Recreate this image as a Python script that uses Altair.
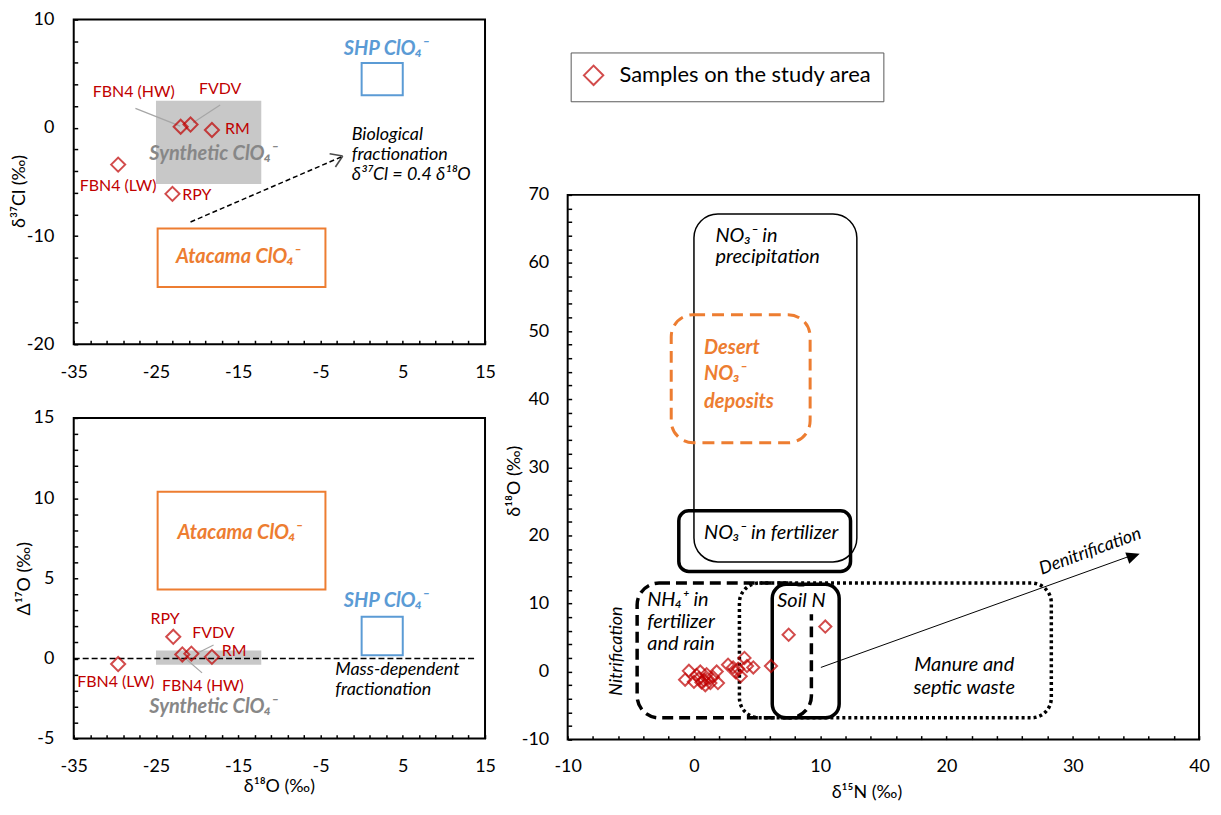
import altair as alt
import pandas as pd

FONT = "Lato"
RED = "#C00000"
ORANGE = "#ED7D31"
BLUE = "#5B9BD5"
GRAYFILL = "#C8C8C8"
GRAYTEXT = "#878787"

# ---------------- data ----------------
# top-left panel: d18O vs d37Cl
cl_names = ["FBN4 (HW)", "FVDV", "RM", "FBN4 (LW)", "RPY"]
cl_d18o = [-22.0, -20.8, -18.2, -29.6, -23.0]
cl_d37cl = [0.1, 0.3, -0.2, -3.4, -6.1]

# bottom-left panel: d18O vs D17O
o_names = ["FBN4 (HW)", "FVDV", "RM", "FBN4 (LW)", "RPY"]
o_d18o = [-21.8, -20.7, -18.2, -29.6, -22.9]
o_D17o = [0.25, 0.3, 0.1, -0.35, 1.35]

# right panel: d15N vs d18O of nitrate samples
n_d15n = [-0.7, -0.4, 0.0, 0.2, 0.4, 0.5, 0.6, 0.8, 0.9, 1.0, 1.1, 1.3, 1.5,
          1.8, 1.9, 2.7, 3.1, 3.3, 3.5, 3.7, 4.0, 4.2, 4.7, 6.1, 7.5, 10.4]
n_d18o = [-1.2, 0.1, -1.5, -0.5, -1.0, 0.0, -1.6, -1.3, -2.0, -0.4, -1.1, -1.7, -0.8,
          0.0, -1.7, 1.0, 0.6, -0.1, 0.4, -0.7, 2.0, 0.8, 0.6, 0.8, 5.4, 6.6]

# source boxes (x1, x2, y1, y2)
cl_boxes = {"SHP": [0, 5, 3, 6], "Synthetic": [-25, -12.2, -5.2, 2.5], "Atacama": [-24.8, -4.4, -14.7, -9.3]}
o_boxes = {"SHP": [0, 5, 0.2, 2.6], "Synthetic": [-25, -12.2, -0.4, 0.5], "Atacama": [-24.8, -4.4, 4.3, 10.4]}
n_boxes = {
    "precip": [0, 12.9, 16.1, 67.2],
    "desert": [-1.8, 9.2, 33.6, 52.4],
    "fert": [-1.2, 12.4, 14.7, 23.6],
    "nh4": [-4.5, 9.3, -6.8, 13.0],
    "manure": [3.6, 28.3, -6.8, 13.0],
    "soil": [6.2, 11.5, -6.8, 12.8],
    "soilbg": [6.45, 11.25, 8.4, 12.5],
}

# tick values (labelled and minor)
cl_xticks = list(range(-35, 16, 2))
cl_yticks = list(range(-20, 11, 2))
o_yticks = list(range(-5, 16, 1))
n_xticks = list(range(-10, 41, 2))
n_yticks = list(range(-10, 71, 2))


def axis(vals, base, step, pad, title=None, tx=None, ty=None):
    kw = dict(values=vals,
              labelExpr=f"(datum.value - ({base})) % {step} === 0 ? '' + datum.value : ''",
              tickSize=4, offset=-4, domain=False, grid=False, labelPadding=pad,
              labelFontSize=18, labelColor="black", tickColor="black", tickWidth=1.5,
              labelOverlap=False, labelFlush=False, title=title)
    if title is not None:
        kw.update(titleFontSize=18, titleFontWeight="normal", titleColor="black",
                  titleX=tx, titleY=ty, titleBaseline="middle", titleAlign="center")
    return alt.Axis(**kw)


def box(xe, ye, b, **mk):
    df = pd.DataFrame({"x1": [b[0]], "x2": [b[1]], "y1": [b[2]], "y2": [b[3]]})
    return alt.Chart(df).mark_rect(**mk).encode(x=xe("x1"), x2="x2:Q", y=ye("y1"), y2="y2:Q")


def rule(xe, ye, x1, y1, x2, y2, **mk):
    df = pd.DataFrame({"x1": [x1], "x2": [x2], "y1": [y1], "y2": [y2]})
    return alt.Chart(df).mark_rule(**mk).encode(x=xe("x1"), x2="x2:Q", y=ye("y1"), y2="y2:Q")


def texts(xe, ye, rows, **mk):
    df = pd.DataFrame(rows, columns=["x", "y", "t"])
    kw = dict(baseline="middle", fontSize=16)
    kw.update(mk)
    return alt.Chart(df).mark_text(**kw).encode(x=xe("x"), y=ye("y"), text="t:N")


def point(xe, ye, x, y, **mk):
    df = pd.DataFrame({"x": [x], "y": [y]})
    return alt.Chart(df).mark_point(**mk).encode(x=xe("x"), y=ye("y"))


# ---------------- top-left ----------------
xs1 = alt.Scale(domain=[-35, 15], nice=False, zero=False)
ys1 = alt.Scale(domain=[-20, 10], nice=False, zero=False)
xa1 = axis(cl_xticks, -35, 10, 19)
ya1 = axis(cl_yticks, -20, 10, 20, "δ³⁷Cl (‰)", -58, 172)
X1 = lambda f: alt.X(f"{f}:Q", scale=xs1, axis=xa1)
Y1 = lambda f: alt.Y(f"{f}:Q", scale=ys1, axis=ya1)

cl_df = pd.DataFrame({"x": cl_d18o, "y": cl_d37cl, "name": cl_names})
top = alt.layer(
    box(X1, Y1, cl_boxes["Synthetic"], fill=GRAYFILL, stroke=None),
    box(X1, Y1, cl_boxes["SHP"], fill=None, stroke=BLUE, strokeWidth=2),
    box(X1, Y1, cl_boxes["Atacama"], fill=None, stroke=ORANGE, strokeWidth=2),
    rule(X1, Y1, -27.5, 1.8, -22.05, 0.16, color="#A6A6A6", strokeWidth=1.2),
    rule(X1, Y1, -17.2, 2.1, -20.5, 0.46, color="#A6A6A6", strokeWidth=1.2),
    rule(X1, Y1, -20.8, -8.7, -2.5, -2.7, color="black", strokeWidth=1.5, strokeDash=[5, 3]),
    point(X1, Y1, -2.3, -2.6, shape="M0,0 L-1,-0.65 M0,0 L-1,0.65", filled=False, color="black",
          strokeWidth=1.6, size=500, angle=336.4),
    alt.Chart(cl_df).mark_point(shape="diamond", filled=False, color=RED, strokeWidth=2, size=200)
    .encode(x=X1("x"), y=Y1("y")),
    texts(X1, Y1, [[-27.7, 3.3, "FBN4 (HW)"], [-17.2, 3.6, "FVDV"], [-29.6, -5.4, "FBN4 (LW)"]],
          color=RED, align="center"),
    texts(X1, Y1, [[-16.6, -0.1, "RM"], [-21.8, -6.2, "RPY"]], color=RED, align="left"),
    texts(X1, Y1, [[3.0, 7.3, "SHP ClO₄⁻"]], color=BLUE, align="center", fontSize=20,
          fontStyle="italic", fontWeight="bold"),
    texts(X1, Y1, [[-18.0, -2.4, "Synthetic ClO₄⁻"]], color=GRAYTEXT, align="center", fontSize=20,
          fontStyle="italic", fontWeight="bold"),
    texts(X1, Y1, [[-15.0, -11.9, "Atacama ClO₄⁻"]], color=ORANGE, align="center", fontSize=20,
          fontStyle="italic", fontWeight="bold"),
    texts(X1, Y1, [[-1.2, -0.7, "Biological"], [-1.2, -2.55, "fractionation"],
                   [-1.2, -4.4, "δ³⁷Cl = 0.4 δ¹⁸O"]], color="black", align="left", fontSize=18,
          fontStyle="italic"),
).properties(width=413, height=326, view=alt.ViewBackground(stroke="black", strokeWidth=2))

# ---------------- bottom-left ----------------
ys2 = alt.Scale(domain=[-5, 15], nice=False, zero=False)
xa2 = axis(cl_xticks, -35, 10, 19, "δ¹⁸O (‰)", 206, 52)
ya2 = axis(o_yticks, -5, 5, 20, "Δ¹⁷O (‰)", -53, 161)
X2 = lambda f: alt.X(f"{f}:Q", scale=xs1, axis=xa2)
Y2 = lambda f: alt.Y(f"{f}:Q", scale=ys2, axis=ya2)

o_df = pd.DataFrame({"x": o_d18o, "y": o_D17o, "name": o_names})
bottom = alt.layer(
    box(X2, Y2, o_boxes["Synthetic"], fill=GRAYFILL, stroke=None),
    box(X2, Y2, o_boxes["SHP"], fill=None, stroke=BLUE, strokeWidth=2),
    box(X2, Y2, o_boxes["Atacama"], fill=None, stroke=ORANGE, strokeWidth=2),
    rule(X2, Y2, -35, 0, 13.9, 0, color="black", strokeWidth=1.5, strokeDash=[6, 3]),
    rule(X2, Y2, -18.0, 0.84, -20.0, 0.32, color="#A6A6A6", strokeWidth=1.2),
    rule(X2, Y2, -19.4, -0.9, -21.2, -0.1, color="#A6A6A6", strokeWidth=1.2),
    alt.Chart(o_df).mark_point(shape="diamond", filled=False, color=RED, strokeWidth=2, size=200)
    .encode(x=X2("x"), y=Y2("y")),
    texts(X2, Y2, [[-23.9, 2.45, "RPY"], [-29.9, -1.5, "FBN4 (LW)"], [-19.3, -1.75, "FBN4 (HW)"]],
          color=RED, align="center"),
    texts(X2, Y2, [[-20.6, 1.6, "FVDV"], [-17.0, 0.45, "RM"]], color=RED, align="left"),
    texts(X2, Y2, [[3.0, 3.6, "SHP ClO₄⁻"]], color=BLUE, align="center", fontSize=20,
          fontStyle="italic", fontWeight="bold"),
    texts(X2, Y2, [[-18.0, -3.0, "Synthetic ClO₄⁻"]], color=GRAYTEXT, align="center", fontSize=20,
          fontStyle="italic", fontWeight="bold"),
    texts(X2, Y2, [[-14.8, 7.8, "Atacama ClO₄⁻"]], color=ORANGE, align="center", fontSize=20,
          fontStyle="italic", fontWeight="bold"),
    texts(X2, Y2, [[-3.2, -0.72, "Mass-dependent"], [-3.2, -1.98, "fractionation"]], color="black",
          align="left", fontSize=18, fontStyle="italic"),
).properties(width=413, height=322, view=alt.ViewBackground(stroke="black", strokeWidth=2))

# ---------------- right ----------------
xs3 = alt.Scale(domain=[-10, 40], nice=False, zero=False)
ys3 = alt.Scale(domain=[-10, 70], nice=False, zero=False)
xa3 = axis(n_xticks, -10, 10, 18, "δ¹⁵N (‰)", 300, 57)
ya3 = axis(n_yticks, -10, 10, 19, "δ¹⁸O (‰)", -57, 287)
X3 = lambda f: alt.X(f"{f}:Q", scale=xs3, axis=xa3)
Y3 = lambda f: alt.Y(f"{f}:Q", scale=ys3, axis=ya3)

n_df = pd.DataFrame({"x": n_d15n, "y": n_d18o, "series": ["Samples on the study area"] * len(n_d15n)})
right = alt.layer(
    box(X3, Y3, n_boxes["precip"], fill=None, stroke="black", strokeWidth=1.5, cornerRadius=24),
    box(X3, Y3, n_boxes["desert"], fill=None, stroke=ORANGE, strokeWidth=3, strokeDash=[12, 7],
        cornerRadius=22),
    box(X3, Y3, n_boxes["fert"], fill=None, stroke="black", strokeWidth=3.5, cornerRadius=10),
    box(X3, Y3, n_boxes["nh4"], fill=None, stroke="black", strokeWidth=3.5, strokeDash=[11, 6],
        cornerRadius=22),
    box(X3, Y3, n_boxes["manure"], fill=None, stroke="black", strokeWidth=3.5, strokeDash=[3, 3],
        cornerRadius=20),
    box(X3, Y3, n_boxes["soilbg"], fill="white", stroke=None),
    box(X3, Y3, n_boxes["soil"], fill=None, stroke="black", strokeWidth=3.5, cornerRadius=14),
    rule(X3, Y3, 10.05, 0.6, 34.6, 17.0, color="black", strokeWidth=1),
    point(X3, Y3, 35.3, 17.3, shape="M0,0 L-1,-0.45 L-1,0.45 Z", filled=True, color="black",
          size=700, angle=340.4, opacity=1),
    alt.Chart(n_df).mark_point(filled=False, color=RED, strokeWidth=2, size=150)
    .encode(x=X3("x"), y=Y3("y"),
            shape=alt.Shape("series:N", scale=alt.Scale(range=["diamond"]),
                            legend=alt.Legend(title=None, orient="none", legendX=3, legendY=-143,
                                              strokeColor="#595959", fillColor="white", padding=12,
                                              labelFontSize=22, labelColor="black", labelLimit=500,
                                              symbolSize=380, symbolStrokeWidth=2,
                                              symbolStrokeColor=RED, symbolFillColor="white",
                                              labelOffset=15))),
    texts(X3, Y3, [[1.7, 64.0, "NO₃⁻ in"], [1.7, 60.9, "precipitation"], [0.8, 20.3, "NO₃⁻ in fertilizer"],
                   [-3.7, 10.5, "NH₄⁺ in"], [-3.7, 7.3, "fertilizer"], [-3.7, 4.1, "and rain"],
                   [6.6, 10.4, "Soil N"]], color="black", align="left", fontSize=20, fontStyle="italic"),
    texts(X3, Y3, [[21.4, 0.9, "Manure and"], [21.4, -2.4, "septic waste"]], color="black",
          align="center", fontSize=20, fontStyle="italic"),
    texts(X3, Y3, [[0.8, 47.5, "Desert"], [0.8, 43.7, "NO₃⁻"], [0.8, 39.6, "deposits"]], color=ORANGE,
          align="left", fontSize=20, fontStyle="italic", fontWeight="bold"),
    texts(X3, Y3, [[-6.1, 3.0, "Nitrification"]], color="black", align="center", fontSize=18,
          fontStyle="italic", angle=270),
    texts(X3, Y3, [[31.4, 17.6, "Denitrification"]], color="black", align="center", fontSize=18,
          fontStyle="italic", angle=340),
).properties(width=634, height=547, view=alt.ViewBackground(stroke="black", strokeWidth=2))

spacer = alt.Chart(pd.DataFrame({"v": [0]})).mark_point(opacity=0, size=0).encode(
    x=alt.X("v:Q", axis=None), y=alt.Y("v:Q", axis=None)
).properties(width=634, height=160, view=alt.ViewBackground(stroke=None))

left_col = alt.vconcat(top, bottom, spacing=74, bounds="flush")
right_col = alt.vconcat(spacer, right, spacing=16, bounds="flush").resolve_scale(
    shape="independent").resolve_legend(shape="independent")

chart = alt.hconcat(left_col, right_col, spacing=8).resolve_scale(
    shape="independent").resolve_legend(shape="independent").properties(
    padding={"left": 2, "top": 0, "right": 2, "bottom": 0}
).configure(font=FONT)

chart.save("out.html", embed_options={"renderer": "svg", "actions": False})
